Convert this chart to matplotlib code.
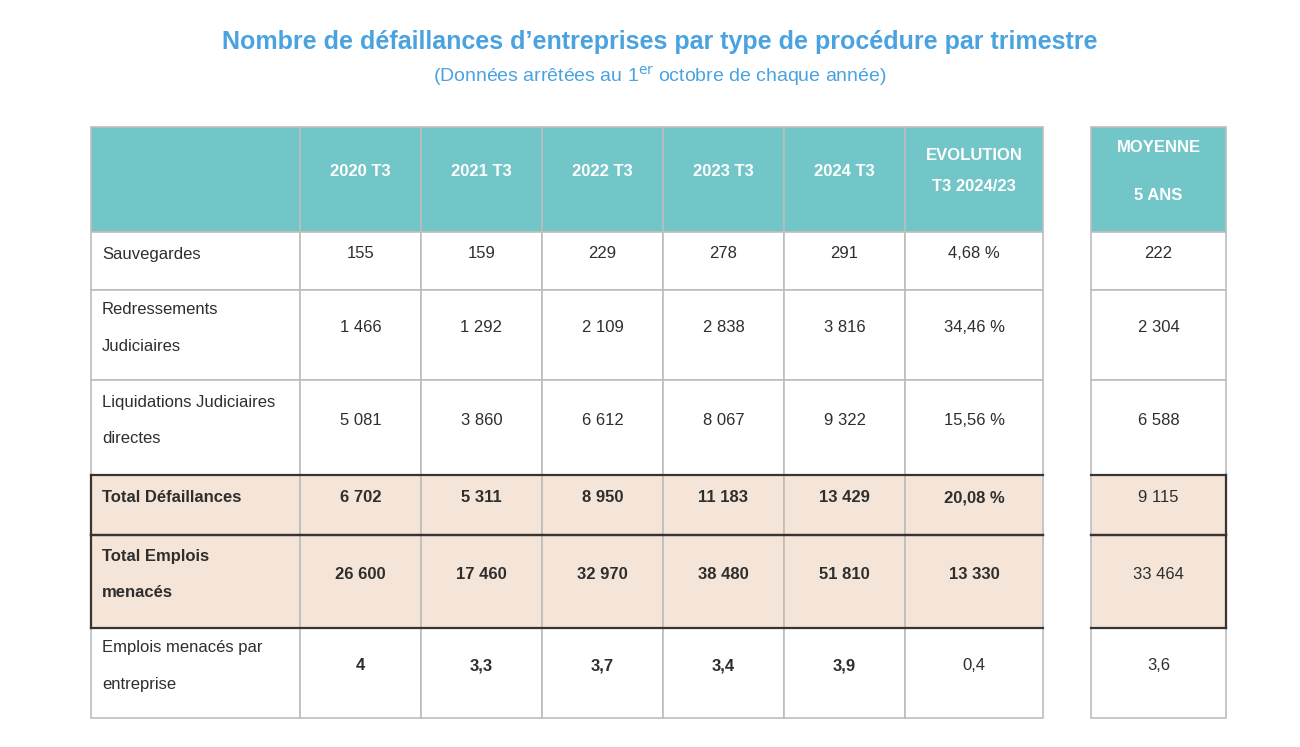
import matplotlib.pyplot as plt
from matplotlib.patches import Rectangle

plt.rcParams['font.family'] = ['Liberation Sans', 'DejaVu Sans']

titre = "Nombre de défaillances d\u2019entreprises par type de procédure par trimestre"
sous_titre = "(Données arrêtées au 1$^{\\mathrm{er}}$ octobre de chaque année)"

colonnes = ["2020 T3", "2021 T3", "2022 T3", "2023 T3", "2024 T3", "EVOLUTION\nT3 2024/23"]
entete_moyenne = "MOYENNE\n\n5 ANS"

lignes = ["Sauvegardes", "Redressements\nJudiciaires", "Liquidations Judiciaires\ndirectes",
          "Total Défaillances", "Total Emplois\nmenacés", "Emplois menacés par\nentreprise"]

valeurs = [
    ["155", "159", "229", "278", "291", "4,68 %"],
    ["1 466", "1 292", "2 109", "2 838", "3 816", "34,46 %"],
    ["5 081", "3 860", "6 612", "8 067", "9 322", "15,56 %"],
    ["6 702", "5 311", "8 950", "11 183", "13 429", "20,08 %"],
    ["26 600", "17 460", "32 970", "38 480", "51 810", "13 330"],
    ["4", "3,3", "3,7", "3,4", "3,9", "0,4"],
]
moyenne = ["222", "2 304", "6 588", "9 115", "33 464", "3,6"]

# lignes en gras / surlignées
lignes_total = [3, 4]
gras_valeurs = [[False] * 6, [False] * 6, [False] * 6,
                [True] * 6, [True] * 6, [True] * 5 + [False]]

# mise en page (pixels)
bords_x = [91, 300, 421, 542, 663, 784, 905, 1043]
moy_x = [1091, 1226]
bords_y = [127, 232, 290, 380, 475, 535, 628, 718]

teal = "#72C6C8"
peche = "#F5E5D9"
gris = "#BDBDBD"
sombre = "#3A3430"
texte = "#2E2E2E"
bleu = "#4AA3E0"
fs = 12

fig = plt.figure(figsize=(13, 7.47), dpi=100)
ax = fig.add_axes([0, 0, 1, 1])
ax.set_xlim(0, 1300)
ax.set_ylim(747, 0)
ax.axis("off")

ax.text(660, 42, titre, ha="center", va="center", fontsize=18, fontweight="bold", color=bleu)
ax.text(660, 77, sous_titre, ha="center", va="center", fontsize=14, color=bleu)


def cellule(x0, x1, y0, y1, fond):
    ax.add_patch(Rectangle((x0, y0), x1 - x0, y1 - y0, facecolor=fond, edgecolor=gris, lw=1.2))


# en-têtes
for j in range(len(bords_x) - 1):
    cellule(bords_x[j], bords_x[j + 1], bords_y[0], bords_y[1], teal)
    if j > 0:
        ax.text((bords_x[j] + bords_x[j + 1]) / 2, 171, colonnes[j - 1], ha="center", va="center",
                fontsize=fs, fontweight="bold", color="white", linespacing=2.3)
cellule(moy_x[0], moy_x[1], bords_y[0], bords_y[1], teal)
ax.text((moy_x[0] + moy_x[1]) / 2, 172, entete_moyenne, ha="center", va="center", fontsize=fs,
        fontweight="bold", color="white", linespacing=1.75)

# corps
for i, nom in enumerate(lignes):
    y0, y1 = bords_y[i + 1], bords_y[i + 2]
    fond = peche if i in lignes_total else "white"
    yc = (y0 + y1) / 2 - 7
    for j in range(len(bords_x) - 1):
        cellule(bords_x[j], bords_x[j + 1], y0, y1, fond)
    cellule(moy_x[0], moy_x[1], y0, y1, fond)
    ax.text(bords_x[0] + 11, yc, nom, ha="left", va="center", fontsize=fs, color=texte,
            fontweight="bold" if i in lignes_total else "normal", linespacing=2.8)
    for j, v in enumerate(valeurs[i]):
        ax.text((bords_x[j + 1] + bords_x[j + 2]) / 2, yc, v, ha="center", va="center", fontsize=fs,
                color=texte, fontweight="bold" if gras_valeurs[i][j] else "normal")
    ax.text((moy_x[0] + moy_x[1]) / 2, yc, moyenne[i], ha="center", va="center", fontsize=fs, color=texte)

# bordures foncées autour des lignes de total
for i in lignes_total:
    y0, y1 = bords_y[i + 1], bords_y[i + 2]
    for x0, x1 in [(bords_x[0], bords_x[-1]), (moy_x[0], moy_x[1])]:
        ax.plot([x0, x1], [y0, y0], color=sombre, lw=1.6)
        ax.plot([x0, x1], [y1, y1], color=sombre, lw=1.6)
    ax.plot([bords_x[0], bords_x[0]], [y0, y1], color=sombre, lw=1.6)
    ax.plot([moy_x[1], moy_x[1]], [y0, y1], color=sombre, lw=1.6)

fig.savefig("out.png", dpi=100, facecolor="white")
